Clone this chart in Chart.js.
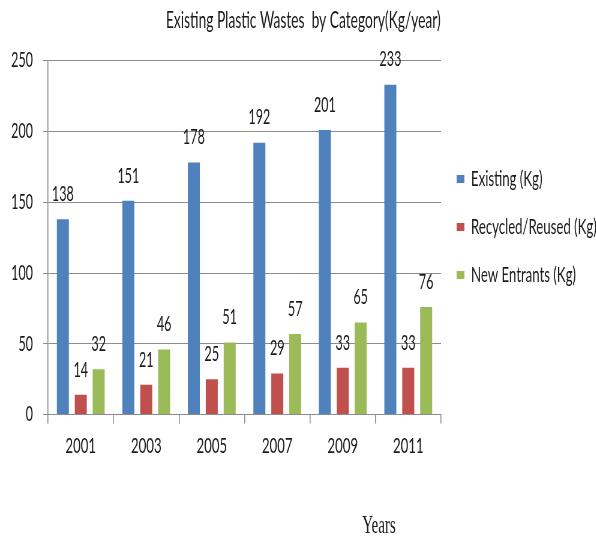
<!DOCTYPE html>
<html>
<head>
<meta charset="utf-8">
<script src="https://cdn.jsdelivr.net/npm/chart.js@4"></script>
<style>
  html, body { margin: 0; padding: 0; background: #fff; overflow: hidden; }
  #wrap { width: 596px; height: 541px; overflow: hidden; }
  /* reference is squeezed horizontally: draw wide, then squash */
  #myChart { transform: scaleX(0.6); transform-origin: 0 0; }
</style>
</head>
<body>
<div id="wrap"><canvas id="myChart" width="993" height="541"></canvas></div>
<script>
var years = ["2001", "2003", "2005", "2007", "2009", "2011"];
var existing = [138, 151, 178, 192, 201, 233];
var recycled = [14, 21, 25, 29, 33, 33];
var newEntrants = [32, 46, 51, 57, 65, 76];
var seriesNames = ["Existing (Kg)", "Recycled/Reused (Kg)", "New Entrants (Kg)"];

var SQ = 0.6;           // horizontal squeeze
var ink = "#1a1a1a";
Chart.defaults.font.family = "Lato, 'Open Sans', sans-serif";

// value labels above each bar
var valueLabels = {
  id: 'valueLabels',
  afterDatasetsDraw: function (chart) {
    var ctx = chart.ctx;
    ctx.save();
    ctx.font = "21px Lato, sans-serif";
    ctx.fillStyle = ink;
    ctx.textAlign = "center";
    ctx.textBaseline = "middle";
    chart.data.datasets.forEach(function (ds, i) {
      chart.getDatasetMeta(i).data.forEach(function (bar, j) {
        ctx.fillText(ds.data[j], bar.x, bar.y - 25);
      });
    });
    ctx.restore();
  }
};

// "Years" caption sits low and right of centre
var yearsCaption = {
  id: 'yearsCaption',
  afterDraw: function (chart) {
    var ctx = chart.ctx;
    ctx.save();
    ctx.font = "25px 'Liberation Serif', serif";
    ctx.fillStyle = ink;
    ctx.textAlign = "center";
    ctx.textBaseline = "middle";
    ctx.fillText("Years", 379 / SQ, 526);
    ctx.restore();
  }
};

window.onload = function () {
  var ctx = document.getElementById("myChart").getContext("2d");
  new Chart(ctx, {
    type: 'bar',
    data: {
      labels: years,
      datasets: [
        { label: seriesNames[0], data: existing, backgroundColor: "#4F81BD" },
        { label: seriesNames[1], data: recycled, backgroundColor: "#C0504D" },
        { label: seriesNames[2], data: newEntrants, backgroundColor: "#9BBB59" }
      ]
    },
    plugins: [valueLabels, yearsCaption],
    options: {
      responsive: false,
      animation: false,
      categoryPercentage: 0.82,
      barPercentage: 0.67,
      layout: { padding: { left: 18, right: 0, top: 0, bottom: 73 } },
      plugins: {
        title: {
          display: true,
          text: "Existing Plastic Wastes  by Category(Kg/year)",
          font: { size: 23, weight: 'normal' },
          color: ink,
          padding: { top: 7, bottom: 26 }
        },
        legend: {
          position: 'right',
          align: 'start',
          maxWidth: 258,
          // empty legend title used only as a spacer above the items
          title: { display: true, text: '', font: { size: 10 }, padding: { top: 0, bottom: 130 } },
          labels: {
            boxWidth: 13,
            boxHeight: 8,
            padding: 26,
            font: { size: 22 },
            color: ink
          }
        },
        tooltip: { enabled: false }
      },
      scales: {
        x: {
          grid: { drawOnChartArea: false, color: "#8c8c8c", lineWidth: 1.6, tickLength: 9, offset: true },
          border: { color: "#8c8c8c" },
          ticks: { font: { size: 22 }, color: ink, padding: 9 }
        },
        y: {
          min: 0,
          max: 250,
          afterFit: function (scale) { scale.width = 62; },
          ticks: { stepSize: 50, font: { size: 21 }, color: ink, padding: 17 },
          grid: { color: "#8c8c8c", tickLength: 8 },
          border: { color: "#8c8c8c", width: 1.6 }
        }
      }
    }
  });
};
</script>
</body>
</html>
